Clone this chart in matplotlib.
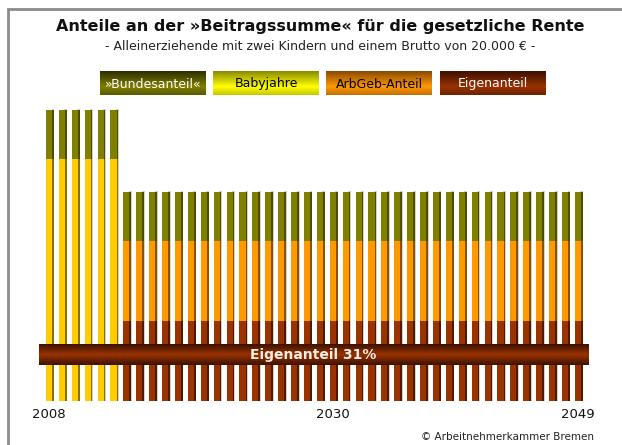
import numpy as np
import matplotlib
matplotlib.use('Agg')
import matplotlib.pyplot as plt
from matplotlib.colors import LinearSegmentedColormap

# data (heights, arbitrary units)
years = [2008, 2009, 2010, 2011, 2012, 2013, 2014, 2015, 2016, 2017, 2018, 2019, 2020, 2021,
         2022, 2023, 2024, 2025, 2026, 2027, 2028, 2029, 2030, 2031, 2032, 2033, 2034, 2035,
         2036, 2037, 2038, 2039, 2040, 2041, 2042, 2043, 2044, 2045, 2046, 2047, 2048, 2049]
eigen = [0, 0, 0, 0, 0, 0, 80, 80, 80, 80, 80, 80, 80, 80,
         80, 80, 80, 80, 80, 80, 80, 80, 80, 80, 80, 80, 80, 80,
         80, 80, 80, 80, 80, 80, 80, 80, 80, 80, 80, 80, 80, 80]
arbgeb = [0, 0, 0, 0, 0, 0, 80, 80, 80, 80, 80, 80, 80, 80,
          80, 80, 80, 80, 80, 80, 80, 80, 80, 80, 80, 80, 80, 80,
          80, 80, 80, 80, 80, 80, 80, 80, 80, 80, 80, 80, 80, 80]
baby = [242, 242, 242, 242, 242, 242, 0, 0, 0, 0, 0, 0, 0, 0,
        0, 0, 0, 0, 0, 0, 0, 0, 0, 0, 0, 0, 0, 0,
        0, 0, 0, 0, 0, 0, 0, 0, 0, 0, 0, 0, 0, 0]
bund = [49, 49, 49, 49, 49, 49, 49, 49, 49, 49, 49, 49, 49, 49,
        49, 49, 49, 49, 49, 49, 49, 49, 49, 49, 49, 49, 49, 49,
        49, 49, 49, 49, 49, 49, 49, 49, 49, 49, 49, 49, 49, 49]
tick_years = [2008, 2030, 2049]
legend_labels = ['»Bundesanteil«', 'Babyjahre', 'ArbGeb-Anteil', 'Eigenanteil']
banner_text = 'Eigenanteil 31%'

col = {'bund': '#808000', 'baby': '#ffcc00', 'arbgeb': '#ff9900', 'eigen': '#993300'}
dark = {'bund': '#4d4d00', 'baby': '#8a6e00', 'arbgeb': '#8a5200', 'eigen': '#4d1a00'}

W, H = 622, 445
fig = plt.figure(figsize=(W / 100, H / 100), dpi=100)

# overlay in pixel coords for frame, title, legend
bg = fig.add_axes([0, 0, 1, 1])
bg.set_xlim(0, W)
bg.set_ylim(H, 0)
bg.axis('off')
bg.plot([8, 8, W + 5], [H + 5, 9, 9], color='#8c8c8c', lw=2, solid_joinstyle='miter')

bg.text(320, 26, 'Anteile an der »Beitragssumme« für die gesetzliche Rente',
        ha='center', va='center', fontsize=11.5, fontweight='bold', color='#111111')
bg.text(320, 46, '- Alleinerziehende mit zwei Kindern und einem Brutto von 20.000 € -',
        ha='center', va='center', fontsize=9, color='#222222')

leg_specs = [
    ('#2e2e00', '#7f7f00', '#5a5a00', 'white'),
    ('#8a8a00', '#ffff00', '#c8c800', 'black'),
    ('#8a4a00', '#ff9900', '#c87000', 'black'),
    ('#3d1000', '#993300', '#702200', 'white'),
]
leg_x = [100, 213, 326, 440]
for (c0, c1, c2, tc), lx, lab in zip(leg_specs, leg_x, legend_labels):
    cm = LinearSegmentedColormap.from_list('g', [(0, c0), (0.65, c1), (1, c2)])
    grad = np.linspace(0, 1, 50).reshape(-1, 1)
    bg.imshow(grad, cmap=cm, extent=[lx, lx + 106, 95, 71], aspect='auto', zorder=2)
    bg.text(lx + 53, 84, lab, ha='center', va='center', fontsize=9, color=tc, zorder=3)

bg.text(594, 437, '© Arbeitnehmerkammer Bremen', ha='right', va='center',
        fontsize=7.5, color='#222222')

# main bars axes, mapped so bar i sits at px 49 + 12.9 * i
x0, dx = 49, 12.9
ax = fig.add_axes([20 / W, (H - 401) / H, 580 / W, 301 / H])
ax.patch.set_alpha(0)
for s in ax.spines.values():
    s.set_visible(False)

x = np.arange(len(years))
total = np.array(eigen) + np.array(arbgeb) + np.array(baby) + np.array(bund)

# thin soft shadow to the right of each bar
ax.bar(x + 0.2, total + 1.5, width=0.22, align='edge', color='#d6d0c8', zorder=1)
bottom = np.zeros(len(years))
for key, vals in [('eigen', eigen), ('arbgeb', arbgeb), ('baby', baby), ('bund', bund)]:
    vals = np.array(vals)
    ax.bar(x - 0.233, vals, width=0.6, bottom=bottom, align='edge', color=dark[key], zorder=2)
    ax.bar(x - 0.233, vals, width=0.47, bottom=bottom, align='edge', color=col[key], zorder=3)
    bottom += vals

ax.set_xticks([years.index(y) for y in tick_years])
ax.set_xticklabels([str(y) for y in tick_years], fontsize=9.5, color='#111111')
ax.tick_params(length=0, pad=5)
ax.set_yticks([])

# banner across the bars
bcm = LinearSegmentedColormap.from_list('b', [(0, '#3d1200'), (0.5, '#993300'), (1, '#3d1200')])
grad = np.linspace(0, 1, 50).reshape(-1, 1)
ax.imshow(grad, cmap=bcm, extent=[-0.78, len(years) - 1 + 0.78, 36, 57], aspect='auto', zorder=5)
ax.set_xlim((20 - x0) / dx, (600 - x0) / dx)
ax.set_ylim(0, 301)
ax.text((len(years) - 1) / 2, 46.5, banner_text, ha='center', va='center', fontsize=10,
        fontweight='bold', color='#f4ece6', zorder=6)

fig.savefig('out.png', dpi=100)
